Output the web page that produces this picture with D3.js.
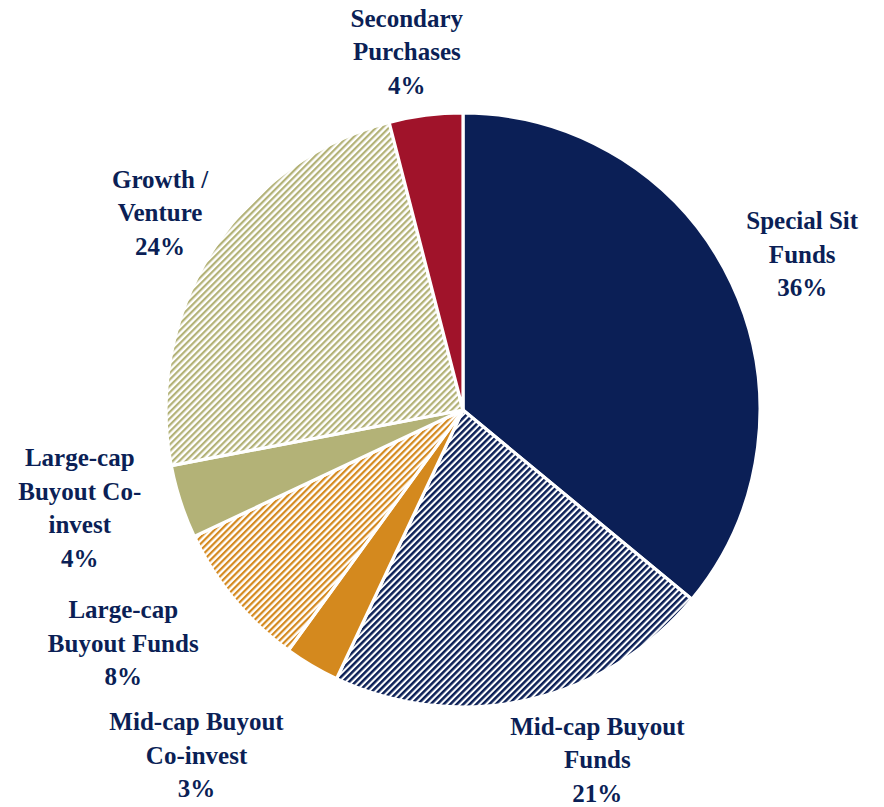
<!DOCTYPE html>
<html>
<head>
<meta charset="utf-8">
<script src="https://cdn.jsdelivr.net/npm/d3@7"></script>
<style>
  html, body { margin: 0; padding: 0; background: #fff; }
  svg { display: block; }
</style>
</head>
<body>
<div id="chart"></div>
<script>
// ---- data ----
const categories = [
  "Special Sit Funds",
  "Mid-cap Buyout Funds",
  "Mid-cap Buyout Co-invest",
  "Large-cap Buyout Funds",
  "Large-cap Buyout Co-invest",
  "Growth / Venture",
  "Secondary Purchases"
];
const values = [36, 21, 3, 8, 4, 24, 4];
const labelLines = [
  ["Special Sit", "Funds"],
  ["Mid-cap Buyout", "Funds"],
  ["Mid-cap Buyout", "Co-invest"],
  ["Large-cap", "Buyout Funds"],
  ["Large-cap", "Buyout Co-", "invest"],
  ["Growth /", "Venture"],
  ["Secondary", "Purchases"]
];
const baseColors = ["#0B1F56", "#0B1F56", "#D4891E", "#D4891E", "#B3B277", "#B3B277", "#A0132A"];
const hatched = [false, true, false, true, false, true, false];

// ---- layout ----
const W = 884, H = 807;
const cx = 463, cy = 410, R = 297;
const labelR = R * 1.24;
const labelNudge = [[6, 1], [54, -10], [-79, 28], [-56, -2], [-33, -16], [8, 0], [-10, 7]];
const lineH = 33.5;

const svg = d3.select("#chart").append("svg").attr("width", W).attr("height", H);
const defs = svg.append("defs");

baseColors.forEach((c, i) => {
  if (!hatched[i]) return;
  const s = 4.6;
  const p = defs.append("pattern")
    .attr("id", "hatch" + i)
    .attr("patternUnits", "userSpaceOnUse")
    .attr("width", s).attr("height", s)
    .attr("patternTransform", "rotate(45)");
  p.append("rect").attr("width", s).attr("height", s).attr("fill", "#fff");
  p.append("rect").attr("width", i === 1 ? 2.5 : 2.2).attr("height", s).attr("fill", c);
});

const pie = d3.pie().sort(null).value(d => d)
  .startAngle(0).endAngle(2 * Math.PI);
const arcs = pie(values);
const arc = d3.arc().innerRadius(0).outerRadius(R);
const labelArc = d3.arc().innerRadius(labelR).outerRadius(labelR);

const g = svg.append("g").attr("transform", `translate(${cx},${cy})`);
g.selectAll("path.slice").data(arcs).enter().append("path")
  .attr("class", "slice")
  .attr("d", arc)
  .attr("fill", (d, i) => hatched[i] ? `url(#hatch${i})` : baseColors[i])
  .attr("stroke", "#fff")
  .attr("stroke-width", 3.2)
  .attr("stroke-linejoin", "round");

const fmt = d3.format(".0%");
g.selectAll("text.lbl").data(arcs).enter().append("text")
  .attr("class", "lbl")
  .attr("text-anchor", "middle")
  .attr("font-family", "'Liberation Serif', 'Times New Roman', serif")
  .attr("font-weight", "bold")
  .attr("font-size", 25)
  .attr("fill", "#0B1F56")
  .each(function (d, i) {
    const [x0, y0] = labelArc.centroid(d);
    const x = x0 + labelNudge[i][0];
    const y = y0 + labelNudge[i][1];
    const lines = labelLines[i].concat([fmt(values[i] / 100)]);
    const top = y - (lines.length - 1) * lineH / 2;
    const t = d3.select(this);
    lines.forEach((ln, k) => {
      t.append("tspan").attr("x", x).attr("y", top + k * lineH).attr("dy", "0.35em").text(ln);
    });
  });
</script>
</body>
</html>
